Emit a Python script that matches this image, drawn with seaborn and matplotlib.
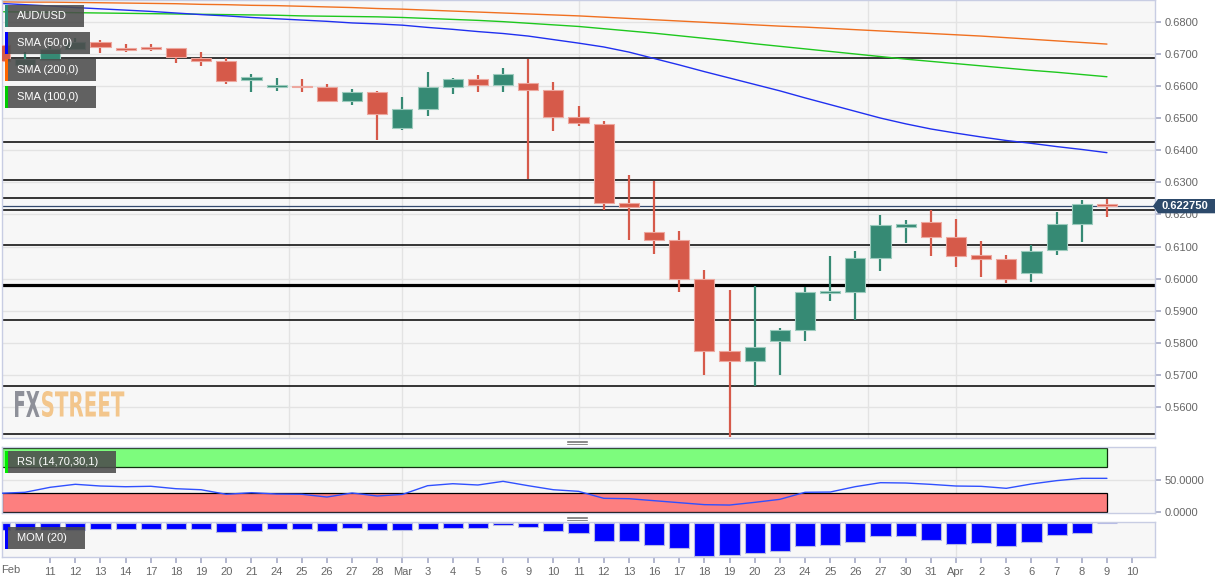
import matplotlib
matplotlib.use('Agg')
import matplotlib.pyplot as plt
import seaborn as sns
import numpy as np
import pandas as pd
from matplotlib.patches import Rectangle, Polygon, PathPatch
from matplotlib.lines import Line2D
from matplotlib.textpath import TextPath
from matplotlib.font_manager import FontProperties
from matplotlib.transforms import Affine2D, IdentityTransform

# AUD/USD daily candles, Feb 7 .. Apr 9 (index -1 .. 43)
day_index = list(range(-1, 44))
opens = [0.6729, 0.6667, 0.6682, 0.6717, 0.6738, 0.6720,
         0.6724, 0.6719, 0.6689, 0.6679, 0.6620,
         0.6599, 0.6602, 0.6597, 0.6554, 0.6581,
         0.6471, 0.6528, 0.6599, 0.6623, 0.6603,
         0.6610, 0.6589, 0.6505, 0.6484, 0.6237,
         0.6145, 0.6119, 0.5998, 0.5774, 0.5743,
         0.5806, 0.5839, 0.5956, 0.5959, 0.6063,
         0.6160, 0.6176, 0.6131, 0.6073, 0.6061,
         0.6016, 0.6088, 0.6170, 0.6232]
highs = [0.6742, 0.6707, 0.6725, 0.6751, 0.6745, 0.6732,
         0.6732, 0.6721, 0.6707, 0.6690, 0.6639,
         0.6625, 0.6623, 0.6607, 0.6592, 0.6587,
         0.6567, 0.6646, 0.6627, 0.6635, 0.6657,
         0.6684, 0.6614, 0.6539, 0.6492, 0.6323,
         0.6304, 0.6148, 0.6027, 0.5964, 0.5978,
         0.5847, 0.5974, 0.6070, 0.6086, 0.6198,
         0.6183, 0.6214, 0.6186, 0.6117, 0.6073,
         0.6105, 0.6209, 0.6245, 0.6248]
lows = [0.6672, 0.6662, 0.6678, 0.6713, 0.6704, 0.6707,
        0.6711, 0.6674, 0.6665, 0.6608, 0.6583,
        0.6586, 0.6582, 0.6553, 0.6543, 0.6433,
        0.6464, 0.6508, 0.6577, 0.6583, 0.6582,
        0.6310, 0.6461, 0.6476, 0.6214, 0.6120,
        0.6077, 0.5959, 0.5698, 0.5506, 0.5665,
        0.5698, 0.5805, 0.5931, 0.5871, 0.6022,
        0.6112, 0.6069, 0.6037, 0.6006, 0.5987,
        0.5990, 0.6073, 0.6115, 0.6193]
closes = [0.6680, 0.6685, 0.6717, 0.6738, 0.6723, 0.6713,
          0.6718, 0.6691, 0.6678, 0.6618, 0.6628,
          0.6602, 0.6597, 0.6554, 0.6581, 0.6515,
          0.6528, 0.6598, 0.6623, 0.6603, 0.6639,
          0.6589, 0.6505, 0.6485, 0.6237, 0.6224,
          0.6119, 0.5999, 0.5774, 0.5743, 0.5786,
          0.5839, 0.5958, 0.5959, 0.6063, 0.6167,
          0.6169, 0.6131, 0.6071, 0.6061, 0.5999,
          0.6087, 0.6169, 0.6232, 0.62275]

sma50 = [0.6859, 0.6855, 0.6851, 0.6846, 0.6842, 0.6838, 0.6834, 0.6829,
         0.6824, 0.6820, 0.6815, 0.6811, 0.6807, 0.6803, 0.6798, 0.6795,
         0.6791, 0.6784, 0.6778, 0.6771, 0.6765, 0.6757, 0.6746, 0.6735,
         0.6723, 0.6707, 0.6687, 0.6667, 0.6646, 0.6626, 0.6606, 0.6586,
         0.6564, 0.6543, 0.6522, 0.6501, 0.6483, 0.6467, 0.6454, 0.6442,
         0.6431, 0.6422, 0.6412, 0.6403, 0.6393]
sma200 = [0.6864, 0.6863, 0.6863, 0.6862, 0.6861, 0.6860, 0.6859, 0.6858,
          0.6856, 0.6855, 0.6853, 0.6852, 0.6850, 0.6848, 0.6846, 0.6843,
          0.6841, 0.6838, 0.6835, 0.6832, 0.6829, 0.6826, 0.6823, 0.6820,
          0.6816, 0.6812, 0.6808, 0.6804, 0.6800, 0.6796, 0.6792, 0.6788,
          0.6785, 0.6781, 0.6777, 0.6773, 0.6769, 0.6765, 0.6761, 0.6757,
          0.6752, 0.6747, 0.6742, 0.6737, 0.6732]
sma100 = [0.6833, 0.6832, 0.6831, 0.6830, 0.6829, 0.6828, 0.6827, 0.6826,
          0.6825, 0.6824, 0.6823, 0.6822, 0.6820, 0.6819, 0.6818, 0.6817,
          0.6815, 0.6812, 0.6809, 0.6806, 0.6802, 0.6797, 0.6792, 0.6787,
          0.6780, 0.6773, 0.6766, 0.6758, 0.6750, 0.6742, 0.6733, 0.6725,
          0.6717, 0.6709, 0.6701, 0.6693, 0.6685, 0.6678, 0.6671, 0.6664,
          0.6657, 0.6650, 0.6644, 0.6637, 0.6630]

rsi = [29.2, 30.8, 38.6, 43.3, 40.6, 39.5, 40.2, 36.4, 34.8, 27.7, 30.2,
       28.1, 27.7, 23.4, 29.7, 25.0, 27.5, 41.1, 44.2, 42.2, 47.9, 41.1,
       34.8, 32.3, 21.4, 20.8, 17.7, 14.6, 11.5, 10.9, 15.1, 19.8, 30.8,
       31.2, 39.6, 45.8, 45.3, 43.2, 40.6, 40.1, 37.0, 43.8, 49.0, 52.6, 52.6]

mom = [-0.0193, -0.0193, -0.0193, -0.0193, -0.0173, -0.0173,
       -0.0165, -0.0165, -0.0173, -0.0239, -0.0212,
       -0.0165, -0.0165, -0.0212, -0.0129, -0.0184,
       -0.0179, -0.0157, -0.0138, -0.0146, -0.0055,
       -0.0110, -0.0228, -0.0267, -0.0495, -0.0503,
       -0.0605, -0.0696, -0.0899, -0.0872, -0.0833,
       -0.0770, -0.0641, -0.0597, -0.0531, -0.0349,
       -0.0366, -0.0476, -0.0569, -0.0550, -0.0641,
       -0.0514, -0.0338, -0.0267, -0.0008]

# support / resistance levels drawn on the chart
levels = [0.6688, 0.6426, 0.6309, 0.6253, 0.6213, 0.6104, 0.5869, 0.5665, 0.5514]
key_level = 0.5981
last_price = 0.62275

tick_pos = list(range(1, 45))
tick_labels = ['11', '12', '13', '14', '17', '18', '19', '20', '21', '24', '25',
               '26', '27', '28', 'Mar', '3', '4', '5', '6', '9', '10', '11', '12',
               '13', '16', '17', '18', '19', '20', '23', '24', '25', '26', '27',
               '30', '31', 'Apr', '2', '3', '6', '7', '8', '9', '10']
vgrid_main = [10.5, 15, 22, 33.5, 37]
vgrid_sub = [15, 37]

W, H = 1232, 583
RED, GREEN = '#d65a4a', '#368a74'
GRID = '#e3e3e3'
BORDER = '#c8cde3'
PANEL = '#f7f7f7'
TXT = '#666666'

sns.set_theme(style='white')
plt.rcParams['font.family'] = ['Liberation Sans', 'DejaVu Sans']

fig = plt.figure(figsize=(W / 100, H / 100), dpi=100)
fig.patch.set_facecolor('white')


def px_rect(x0, y0, x1, y1):
    return [x0 / W, 1 - y1 / H, (x1 - x0) / W, (y1 - y0) / H]


ax = fig.add_axes(px_rect(2, 0, 1155, 437.7))
ax_rsi = fig.add_axes(px_rect(2, 446.7, 1155, 513.3))
ax_mom = fig.add_axes(px_rect(2, 522.3, 1155, 557.3))
xlim = (-0.914, 44.91)

for a in (ax, ax_rsi, ax_mom):
    a.set_facecolor(PANEL)
    for s in a.spines.values():
        s.set_color(BORDER)
        s.set_linewidth(1)
    a.set_xlim(*xlim)

df = pd.DataFrame({'i': day_index, 'open': opens, 'high': highs, 'low': lows,
                   'close': closes, 'sma50': sma50, 'sma200': sma200,
                   'sma100': sma100, 'rsi': rsi, 'mom': mom})
up = df['close'] >= df['open']
cols = np.where(up, GREEN, RED)
edges = np.where(up, '#9ccbbd', '#eda79e')

# --- main price panel ---
ax.set_ylim(0.55031, 0.68696)
yt = np.arange(0.56, 0.6801, 0.01)
ax.set_yticks(yt)
ax.set_yticklabels([f'{v:.4f}' for v in yt])
ax.yaxis.tick_right()
ax.tick_params(axis='y', length=4, color='#a9aec8', labelcolor=TXT, labelsize=8, pad=3)
ax.set_xticks([])
ax.grid(axis='y', color=GRID, lw=1)
ax.set_axisbelow(True)
for v in vgrid_main:
    ax.axvline(v, color=GRID, lw=1, zorder=0.5)

for lv in levels:
    ax.axhline(lv, color='black', lw=1.1, zorder=2)
ax.axhline(key_level, color='black', lw=2.3, zorder=2)
ax.axhline(last_price, color='#34496e', lw=0.9, zorder=2)

sns.lineplot(data=df, x='i', y='sma200', ax=ax, color='#f07020', lw=1.0, zorder=2.5)
sns.lineplot(data=df, x='i', y='sma100', ax=ax, color='#1ec81e', lw=1.0, zorder=2.5)
sns.lineplot(data=df, x='i', y='sma50', ax=ax, color='#2030f0', lw=1.0, zorder=2.5)

body_lo = np.minimum(df['open'], df['close'])
body_h = np.maximum(np.abs(df['close'] - df['open']), 0.0005)
ax.vlines(df['i'], df['low'], df['high'], colors=cols, lw=1.6, zorder=3)
ax.bar(df['i'], body_h, bottom=body_lo, width=0.8, color=cols,
       edgecolor=edges, linewidth=0.8, zorder=4)
ax.set_xlim(*xlim)
ax.set_xlabel('')
ax.set_ylabel('')

# --- RSI panel ---
ax_rsi.set_ylim(-2, 102)
ax_rsi.add_patch(Rectangle((-0.90, 70), 43.9, 30, fc='#7dfc7d', ec='#103010', lw=0.9, zorder=1))
ax_rsi.add_patch(Rectangle((-0.90, 0), 43.9, 30, fc='#fd7f7f', ec='black', lw=0.9, zorder=1))
ax_rsi.axhline(50, color=GRID, lw=1, zorder=0.5)
for v in vgrid_sub:
    ax_rsi.axvline(v, color=GRID, lw=1, zorder=0.5)
sns.lineplot(data=df, x='i', y='rsi', ax=ax_rsi, color='#3050ff', lw=1.0, zorder=3)
ax_rsi.set_yticks([0, 50])
ax_rsi.set_yticklabels(['0.0000', '50.0000'])
ax_rsi.yaxis.tick_right()
ax_rsi.tick_params(axis='y', length=4, color='#a9aec8', labelcolor=TXT, labelsize=8, pad=3)
ax_rsi.set_xticks([])
ax_rsi.set_xlim(*xlim)
ax_rsi.set_xlabel('')
ax_rsi.set_ylabel('')

# --- Momentum panel ---
sns.barplot(data=df, x='i', y='mom', ax=ax_mom, native_scale=True, color='#0000ff',
            saturation=1, edgecolor='#b4b8e6', linewidth=0.8, errorbar=None, width=0.8)
for v in vgrid_sub:
    ax_mom.axvline(v, color=GRID, lw=1, zorder=0.5)
ax_mom.set_ylim(-0.0943, 0.0019)
ax_mom.set_yticks([])
ax_mom.set_xticks(tick_pos)
ax_mom.set_xticklabels(tick_labels)
ax_mom.tick_params(axis='x', bottom=True, length=4, color='#a9aec8', labelcolor=TXT,
                   labelsize=8, pad=3)
ax_mom.set_xlim(*xlim)
ax_mom.set_xlabel('')
ax_mom.set_ylabel('')
fig.text(1 / W, 1 - 570 / H, 'Feb', color=TXT, fontsize=8, ha='left', va='center')


# --- overlay labels ---
def tag(x0, y0, x1, y1, text, strip):
    fig.add_artist(Rectangle((x0 / W, 1 - y1 / H), (x1 - x0) / W, (y1 - y0) / H,
                             transform=fig.transFigure, fc='#4c4c4c', alpha=0.88,
                             ec='none', zorder=10))
    fig.add_artist(Rectangle((x0 / W, 1 - y1 / H), 3 / W, (y1 - y0) / H,
                             transform=fig.transFigure, fc=strip, ec='none', zorder=11))
    fig.text((x0 + 12) / W, 1 - (y0 + y1) / 2 / H, text, color='white', fontsize=8,
             ha='left', va='center', zorder=12)


tag(5, 5, 84, 27, 'AUD/USD', '#2e8b74')
tag(5, 32, 90, 54, 'SMA (50,0)', '#0000ff')
tag(5, 59, 96, 81, 'SMA (200,0)', '#ff6600')
tag(5, 86, 96, 108, 'SMA (100,0)', '#00cc00')
tag(5, 451, 116, 473, 'RSI (14,70,30,1)', '#00ee00')
tag(5, 527, 85, 549, 'MOM (20)', '#0000ff')

# last price tag
fig.add_artist(Polygon([(1153 / W, 1 - 206 / H), (1158 / W, 1 - 199 / H),
                        (1215 / W, 1 - 199 / H), (1215 / W, 1 - 213.3 / H),
                        (1158 / W, 1 - 213.3 / H)], closed=True,
                       transform=fig.transFigure, fc='#2d4a6b', ec='none', zorder=10))
fig.text(1161 / W, 1 - 206.3 / H, f'{last_price:.6f}', color='white', fontsize=8,
         fontweight='bold', ha='left', va='center', zorder=11)

# drag handles between panels
for yy in (440.5, 516.5):
    for k in range(3):
        fig.add_artist(Line2D([567 / W, 587 / W], [1 - (yy + 1.5 * k) / H] * 2,
                              transform=fig.transFigure, color='#8a8a8a', lw=0.7))


# FXSTREET watermark
def logo_word(text, x0, x1, ytop, ybot, color):
    tp = TextPath((0, 0), text, size=100,
                  prop=FontProperties(family='DejaVu Sans', weight='bold'))
    ext = tp.get_extents()
    tr = (Affine2D().translate(-ext.x0, -ext.y0)
          .scale((x1 - x0) / ext.width, (ybot - ytop) / ext.height)
          .translate(x0, H - ybot))
    fig.add_artist(PathPatch(tr.transform_path(tp), fc=color, ec='none',
                             transform=IdentityTransform(), zorder=9))


logo_word('FX', 15, 39.5, 391, 417, '#8e9099')
logo_word('STREET', 42, 124.3, 391, 417, '#f3c68c')

fig.savefig('out.png', dpi=100)
